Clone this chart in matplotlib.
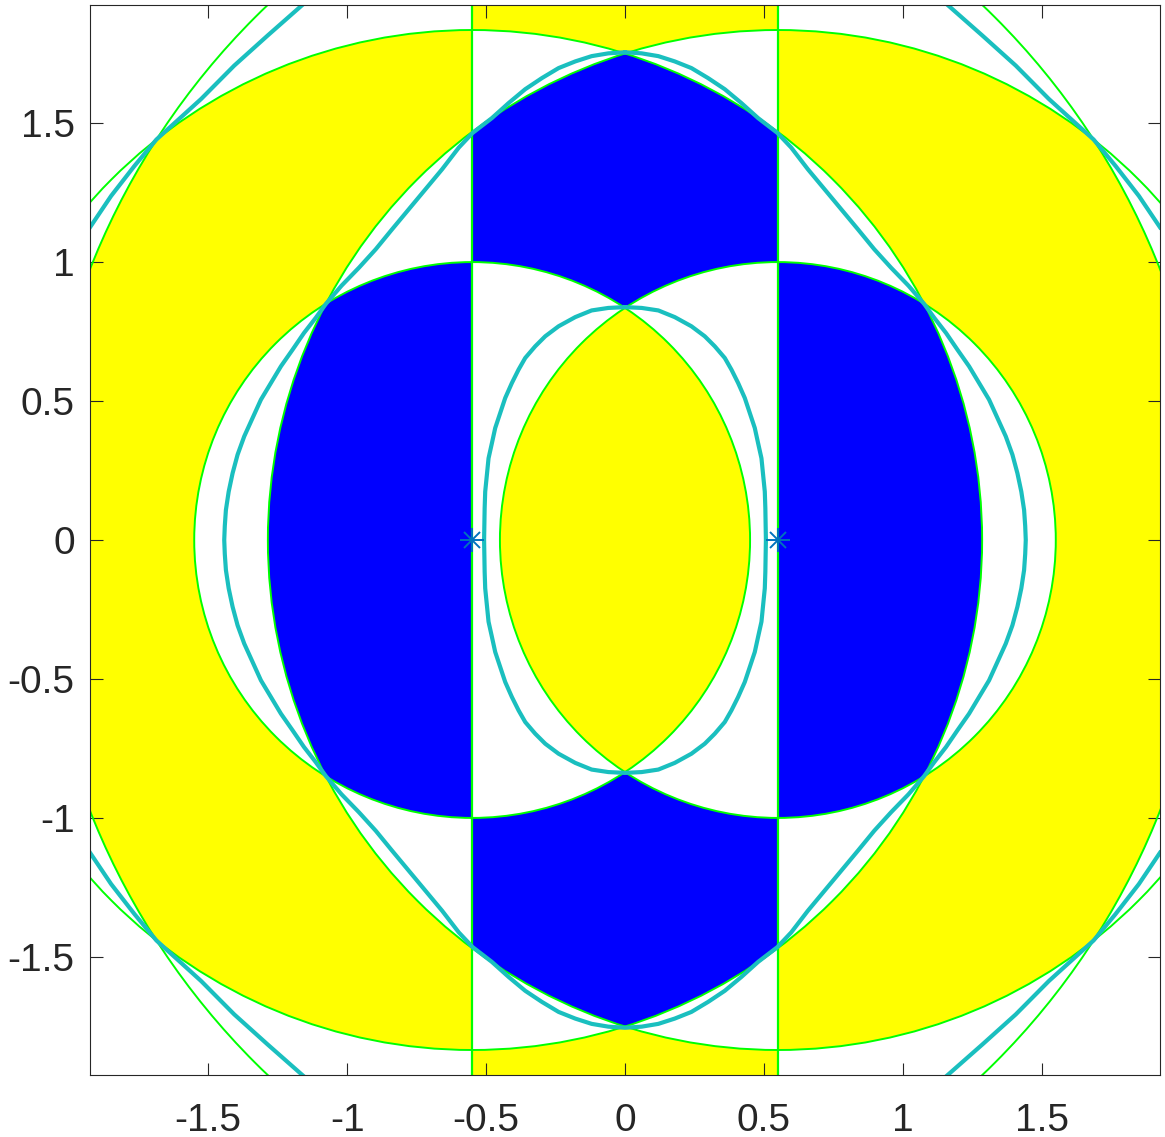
import numpy as np
import matplotlib
matplotlib.use("Agg")
import matplotlib.pyplot as plt
from matplotlib.colors import ListedColormap
from matplotlib.patches import Circle

plt.rcParams['font.family'] = ['Liberation Sans', 'DejaVu Sans']
plt.rcParams['axes.unicode_minus'] = False

# geometry
foci_x = [-0.55, 0.55]            # the two '*' points, also the vertical lines
ring_radii = [1.0, 1.835, 2.66]   # green circles around each focus
lim = 1.925

tick_vals = [-1.5, -1, -0.5, 0, 0.5, 1, 1.5]
tick_labels = ['-1.5', '-1', '-0.5', '0', '0.5', '1', '1.5']

# cyan curves, first quadrant (mirrored below)
inner_x = [0.0, 0.060, 0.120, 0.179, 0.239, 0.287, 0.323, 0.359, 0.383, 0.407,
           0.431, 0.449, 0.467, 0.479, 0.491, 0.497, 0.503, 0.505, 0.506, 0.507]
inner_y = [0.838, 0.835, 0.826, 0.802, 0.769, 0.733, 0.697, 0.655, 0.613, 0.565,
           0.511, 0.457, 0.403, 0.348, 0.294, 0.234, 0.174, 0.114, 0.056, 0.0]

outer_x = [0.0, 0.060, 0.120, 0.179, 0.239, 0.299, 0.359, 0.419, 0.479, 0.548,
           0.598, 0.658, 0.718, 0.778, 0.838, 0.897, 0.957, 1.020, 1.076, 1.113,
           1.155, 1.196, 1.238, 1.274, 1.310, 1.340, 1.370, 1.394, 1.412, 1.426,
           1.436, 1.440, 1.442]
outer_y = [1.755, 1.751, 1.741, 1.722, 1.698, 1.662, 1.622, 1.572, 1.518, 1.465,
           1.412, 1.334, 1.262, 1.190, 1.118, 1.046, 0.980, 0.915, 0.850, 0.799,
           0.745, 0.685, 0.625, 0.565, 0.505, 0.439, 0.373, 0.307, 0.240, 0.174,
           0.108, 0.050, 0.0]

corner_x = [1.152, 1.286, 1.406, 1.525, 1.686, 1.765, 1.849, 1.925]
corner_y = [1.933, 1.815, 1.707, 1.587, 1.441, 1.346, 1.238, 1.125]

GREEN = '#00FF00'
CYAN = '#1ABFBF'
STAR = '#0072BD'


def ring_index(d):
    n = np.full(d.shape, len(ring_radii))
    for i, r in reversed(list(enumerate(ring_radii))):
        n[d < r] = i
    return n


def region_image(npx=2200):
    g = np.linspace(-lim, lim, npx)
    X, Y = np.meshgrid(g, g)
    n1 = ring_index(np.hypot(X - foci_x[0], Y))
    n2 = ring_index(np.hypot(X - foci_x[1], Y))
    k = np.where(X < foci_x[0], -1, np.where(X > foci_x[1], 1, 0))
    top = len(ring_radii) - 1
    colored = (n1 - n2 == k) & (n1 <= top) & (n2 <= top)
    s = n1 + n2
    yellow = ((s + 1) // 2) % 2 == 0
    img = np.zeros(X.shape, dtype=int)
    img[colored & ~yellow] = 1
    img[colored & yellow] = 2
    return img


def closed_loop(qx, qy):
    qx, qy = np.array(qx), np.array(qy)
    xs = np.concatenate([qx, qx[::-1][1:], -qx[1:], -qx[::-1][1:]])
    ys = np.concatenate([qy, -qy[::-1][1:], -qy[1:], qy[::-1][1:]])
    return xs, ys


fig = plt.figure(figsize=(11.65, 11.37), dpi=100)
ax = fig.add_axes([90 / 1165, 62 / 1137, 1070 / 1165, 1070 / 1137])

cmap = ListedColormap(['white', '#0000FF', '#FFFF00'])
ax.imshow(region_image(), extent=[-lim, lim, -lim, lim], origin='lower',
          cmap=cmap, vmin=0, vmax=2, interpolation='nearest', zorder=1)

for cx in foci_x:
    for r in ring_radii:
        ax.add_patch(Circle((cx, 0), r, fill=False, ec=GREEN, lw=1.4, zorder=3))
    ax.axvline(cx, color=GREEN, lw=1.6, zorder=3)

for qx, qy in [(inner_x, inner_y), (outer_x, outer_y)]:
    xs, ys = closed_loop(qx, qy)
    ax.plot(xs, ys, color=CYAN, lw=3.0, zorder=4, solid_joinstyle='round')

cx_arr, cy_arr = np.array(corner_x), np.array(corner_y)
for sx in (1, -1):
    for sy in (1, -1):
        ax.plot(sx * cx_arr, sy * cy_arr, color=CYAN, lw=3.0, zorder=4,
                solid_joinstyle='round')

ax.plot(foci_x, [0, 0], ls='none', marker='+', ms=17, mew=1.4, color=STAR, zorder=5)
ax.plot(foci_x, [0, 0], ls='none', marker='x', ms=12, mew=1.4, color=STAR, zorder=5)

ax.set_xlim(-lim, lim)
ax.set_ylim(-lim, lim)
ax.set_xticks(tick_vals)
ax.set_xticklabels(tick_labels)
ax.set_yticks(tick_vals)
ax.set_yticklabels(tick_labels)
ax.tick_params(direction='in', length=9, width=0.8, colors='#262626',
               labelsize=28, top=True, right=True)
ax.tick_params(axis='x', pad=20)
ax.tick_params(axis='y', pad=11)
for sp in ax.spines.values():
    sp.set_color('#262626')
    sp.set_linewidth(0.8)
    sp.set_zorder(6)

fig.savefig('out.png', dpi=100)
